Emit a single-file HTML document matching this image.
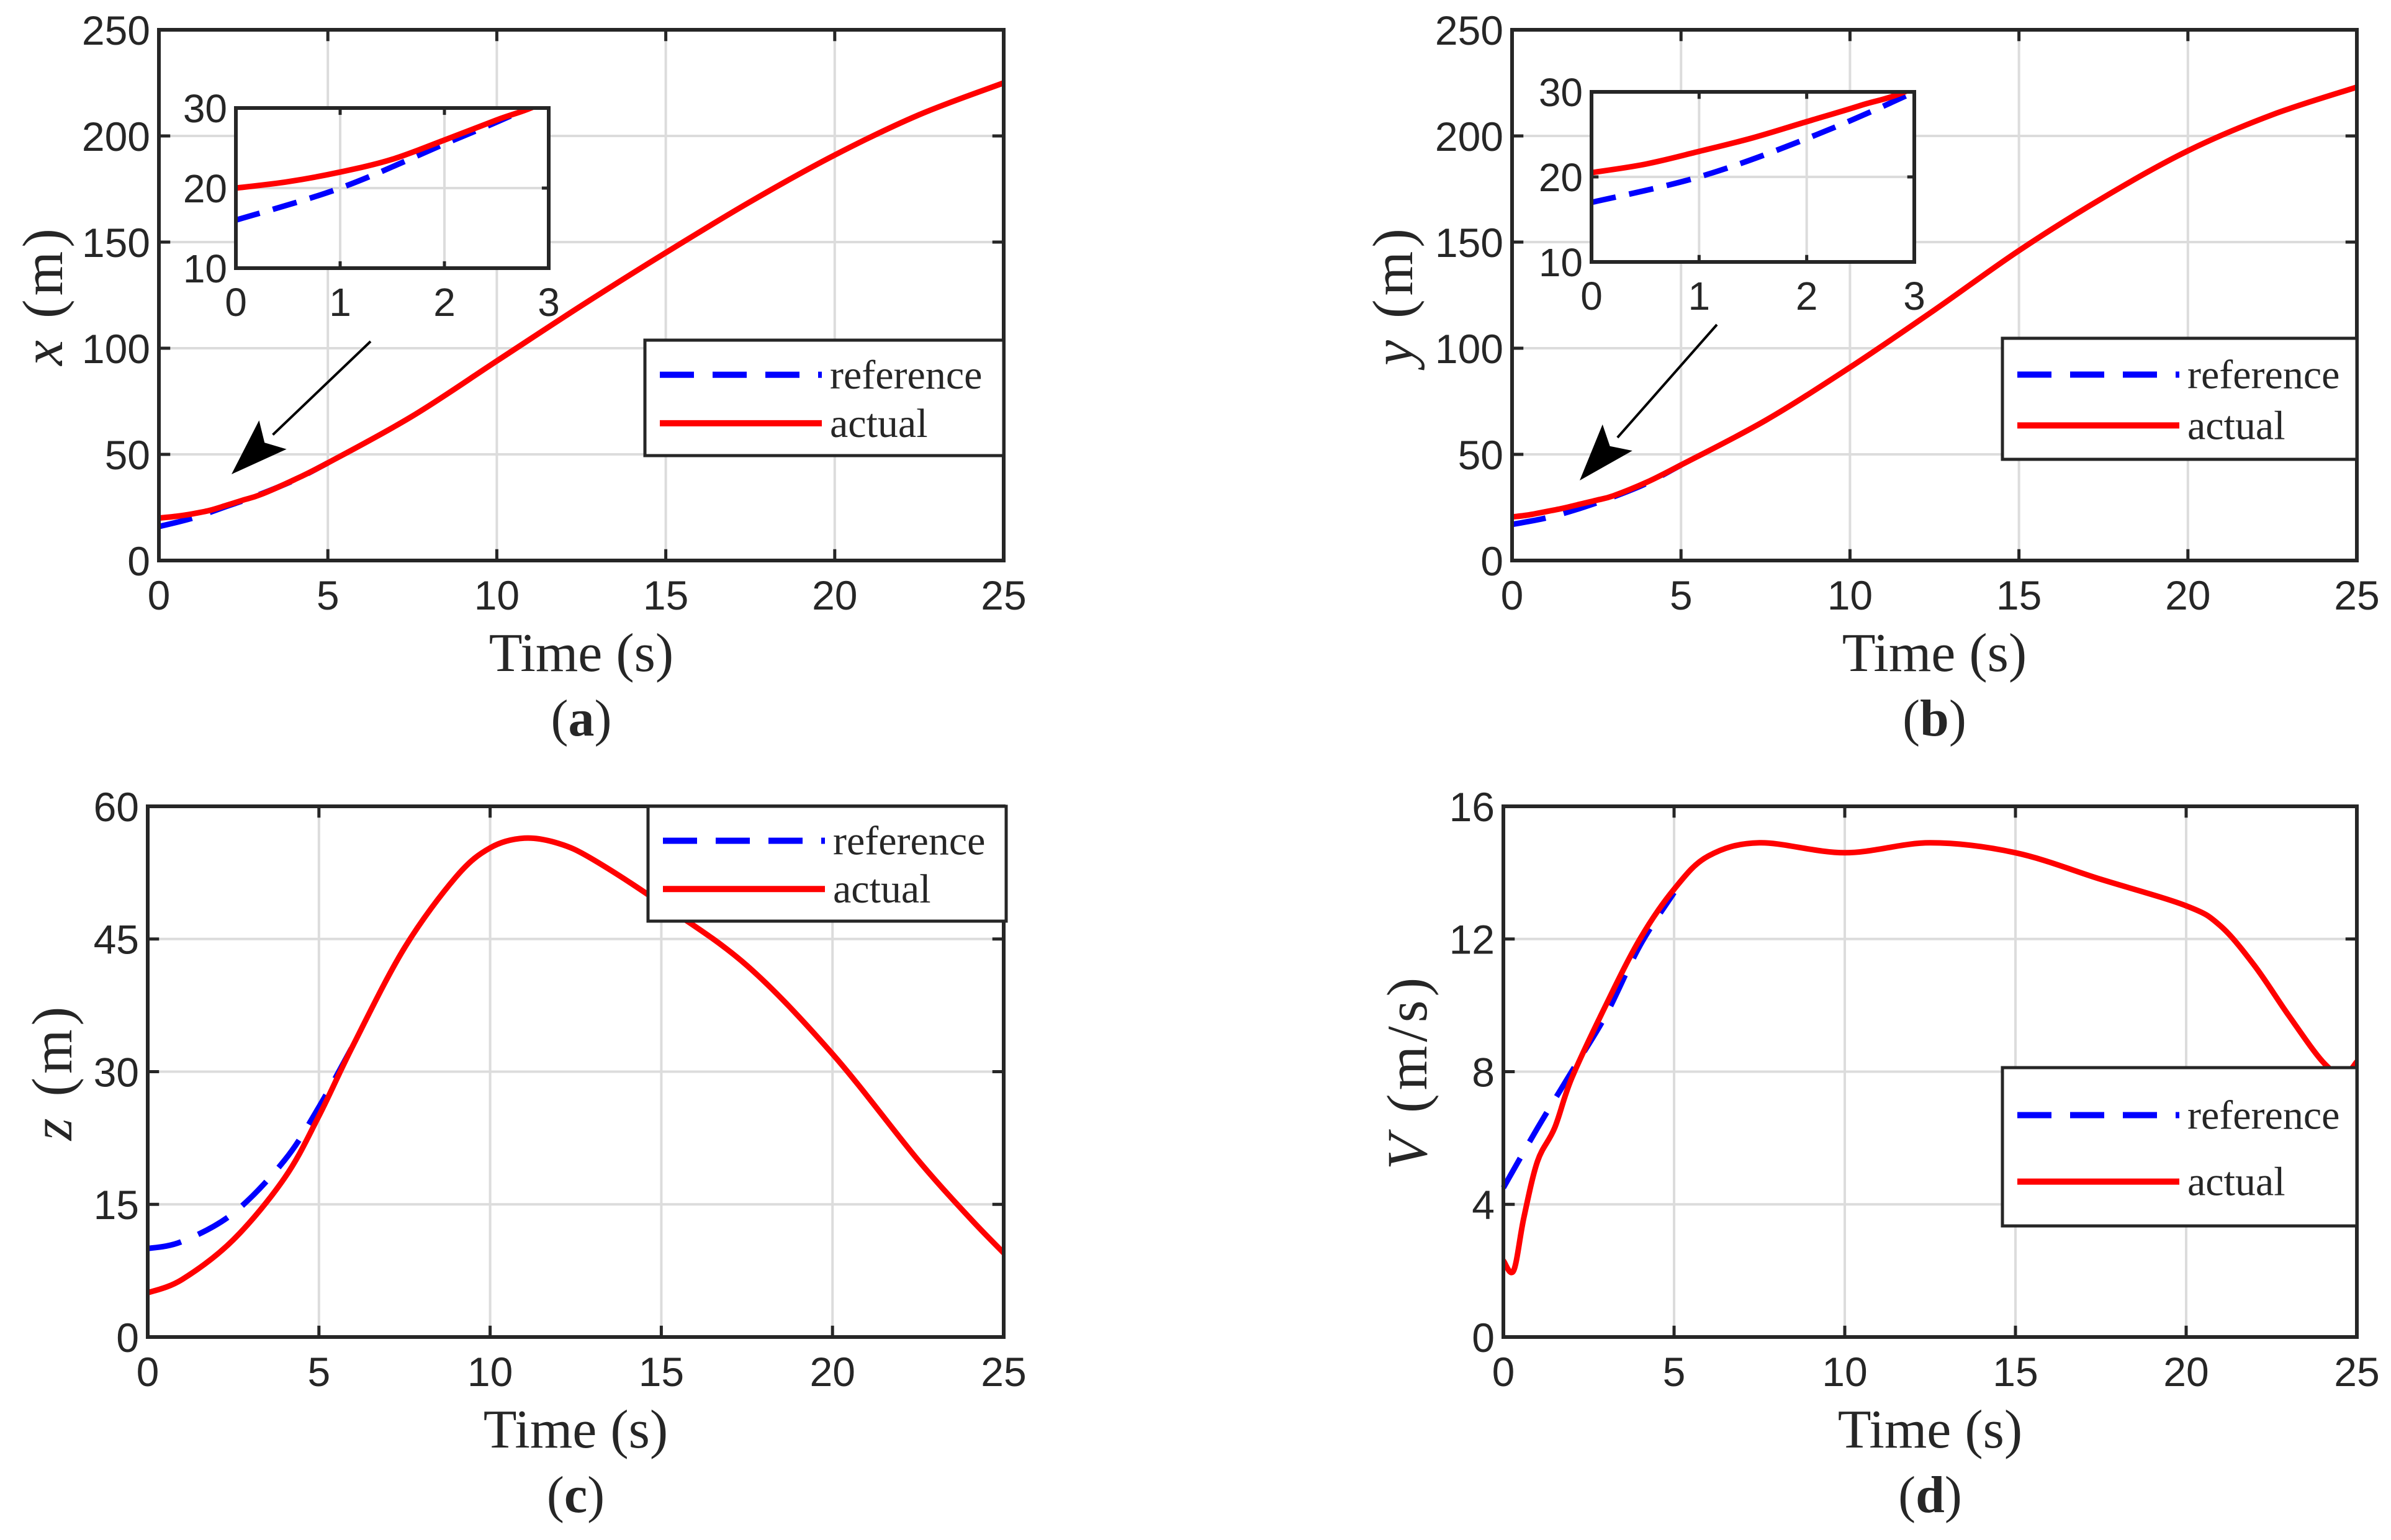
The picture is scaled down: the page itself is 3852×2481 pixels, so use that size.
<!DOCTYPE html>
<html><head><meta charset="utf-8"><style>
html,body{margin:0;padding:0;background:#fff}
svg{display:block}
.tk{font-family:"Liberation Sans",Arial,sans-serif;fill:#262626}
.ser{font-family:"Liberation Serif","Times New Roman",serif;fill:#262626}
</style></head><body>
<svg id="fig" width="3852" height="2481" viewBox="0 0 3852 2481" xmlns="http://www.w3.org/2000/svg"></svg>
<script>
// ---- data ----
const tA = [0,0.5,1,1.5,2,2.5,3,4,5,7.5,10,12.5,15,17.5,20,22.5,25];
const xActual = [20,20.8,22,23.6,26,28.5,31,38,46,68,94,120,145,169,191,210,225];
const tARef = [0,1,2,2.8,4,5];
const xRef = [16,20,25.5,30,37.8,46];

const tB = [0,0.5,1,1.5,2,2.5,3,4,5,7.5,10,12.5,15,17.5,20,22.5,25];
const yActual = [20.5,21.5,23,24.6,26.5,28.4,30.5,37,45,66,91,118,146,171,193,210,223];
const tBRef = [0,1,2,3,4,5];
const yRef = [17,20,24.5,30,36.5,45];

const tC = [0,1,2.5,4,5,6,7.5,9,10,11,12,13,15,17.5,20,22.5,24,25];
const zActual = [5,6.5,11,18,25,33,44,52,55.3,56.4,55.8,54,49,42,32,20,13.5,9.5];
const tCRef = [0,1,2.5,4,5,6];
const zRef = [10,10.8,14,20,26,33];

const tD = [0,0.3,0.6,1,1.5,2,3,4,5,6,7.5,10,12.5,15,17.5,20,21,22,23,24,24.6,25];
const vActual = [2.3,2.0,3.6,5.3,6.3,7.8,10,12,13.5,14.5,14.9,14.6,14.9,14.6,13.8,13.0,12.4,11.2,9.7,8.3,7.9,8.3];
const tDRef = [0,1,2,3,4,5];
const vRef = [4.5,6.3,8,9.7,11.8,13.4];

const xTicks = [0,5,10,15,20,25];
const xyTicks = [0,50,100,150,200,250];
const zTicks = [0,15,30,45,60];
const vTicks = [0,4,8,12,16];
const insetXTicks = [0,1,2,3];
const insetYTicks = [10,20,30];
const legendLabels = ["reference","actual"];

// ---- drawing ----
const NS="http://www.w3.org/2000/svg";
const svg=document.getElementById('fig');
function mk(tag,attrs,parent){const e=document.createElementNS(NS,tag);for(const k in attrs)e.setAttribute(k,attrs[k]);(parent||svg).appendChild(e);return e;}
function smoothPath(xs,ys,sx,sy){
  const P=xs.map((x,i)=>[sx(x),sy(ys[i])]);
  let d="M"+P[0][0].toFixed(1)+","+P[0][1].toFixed(1);
  for(let i=0;i<P.length-1;i++){
    const p0=P[Math.max(0,i-1)],p1=P[i],p2=P[i+1],p3=P[Math.min(P.length-1,i+2)];
    const c1=[p1[0]+(p2[0]-p0[0])/6,p1[1]+(p2[1]-p0[1])/6];
    const c2=[p2[0]-(p3[0]-p1[0])/6,p2[1]-(p3[1]-p1[1])/6];
    d+=" C"+c1[0].toFixed(1)+","+c1[1].toFixed(1)+" "+c2[0].toFixed(1)+","+c2[1].toFixed(1)+" "+p2[0].toFixed(1)+","+p2[1].toFixed(1);
  }
  return d;
}
function axes(g,L,R,T,B,xmin,xmax,ymin,ymax,xt,yt,fs,prefix){
  const sx=v=>L+(v-xmin)/(xmax-xmin)*(R-L);
  const sy=v=>B-(v-ymin)/(ymax-ymin)*(B-T);
  mk('rect',{x:L,y:T,width:R-L,height:B-T,fill:'#fff'},g);
  const tl=(B-T)*0.012+8;
  xt.forEach(v=>{
    const gl=mk('line',{x1:sx(v),x2:sx(v),y1:T,y2:B,stroke:'#dcdcdc','stroke-width':4},g);
    
    
    mk('line',{x1:sx(v),x2:sx(v),y1:B,y2:B-tl,stroke:'#262626','stroke-width':5},g);
    mk('line',{x1:sx(v),x2:sx(v),y1:T,y2:T+tl,stroke:'#262626','stroke-width':5},g);
    const t=mk('text',{x:sx(v),y:B+fs*1.2,'text-anchor':'middle',class:'tk','font-size':fs},g);
    t.textContent=v;
    
    
  });
  yt.forEach(v=>{
    const gl=mk('line',{x1:L,x2:R,y1:sy(v),y2:sy(v),stroke:'#dcdcdc','stroke-width':4},g);
    
    
    mk('line',{x1:L,x2:L+tl,y1:sy(v),y2:sy(v),stroke:'#262626','stroke-width':5},g);
    mk('line',{x1:R,x2:R-tl,y1:sy(v),y2:sy(v),stroke:'#262626','stroke-width':5},g);
    const t=mk('text',{x:L-14,y:sy(v)+fs*0.36,'text-anchor':'end',class:'tk','font-size':fs},g);
    t.textContent=v;
    
    
  });
  return {sx,sy};
}
function series(g,xs,ys,sc,color,dash,name){
  const p=mk('path',{d:smoothPath(xs,ys,sc.sx,sc.sy),fill:'none',stroke:color,'stroke-width':9,'stroke-linejoin':'round'},g);
  if(dash)p.setAttribute('stroke-dasharray',dash);
  
  
}
function frame(g,L,R,T,B){mk('rect',{x:L,y:T,width:R-L,height:B-T,fill:'none',stroke:'#262626','stroke-width':6},g);}
function legend(g,L,R,T,B,prefix){
  const lg=mk('g',{},g);
  
  
  mk('rect',{x:L,y:T,width:R-L,height:B-T,fill:'#fff',stroke:'#262626','stroke-width':5},lg);
  const h=B-T, y1=T+h*0.3, y2=T+h*0.72;
  mk('line',{x1:L+24,x2:L+285,y1:y1,y2:y1,stroke:'#0000ff','stroke-width':10,'stroke-dasharray':'55,30'},lg);
  mk('line',{x1:L+24,x2:L+285,y1:y2,y2:y2,stroke:'#ff0000','stroke-width':10},lg);
  [y1,y2].forEach((y,i)=>{
    const t=mk('text',{x:L+298,y:y+22,class:'ser','font-size':66},lg);
    t.textContent=legendLabels[i];
    
    
  });
}
function labels(g,L,R,B,ylab,ylabX,ylabY,caption,capY,prefix){
  const xl=mk('text',{x:(L+R)/2,y:B+178,'text-anchor':'middle',class:'ser','font-size':88},g);
  xl.textContent='Time (s)';
  
  
  const yl=mk('text',{x:ylabX,y:ylabY,'text-anchor':'middle',class:'ser','font-size':92,'letter-spacing':6,transform:`rotate(-90 ${ylabX} ${ylabY})`},g);
  yl.innerHTML=ylab;
  
  
  const c=mk('text',{x:(L+R)/2,y:capY,'text-anchor':'middle',class:'ser','font-size':84},g);
  c.innerHTML=caption;
  
  
}
function arrow(g,x1,y1,x2,y2,prefix){
  const ag=mk('g',{},g);
  
  
  const ang=Math.atan2(y2-y1,x2-x1),len=92,w=32;
  const bx=x2-len*Math.cos(ang),by=y2-len*Math.sin(ang);
  mk('line',{x1,y1,x2:bx,y2:by,stroke:'#000','stroke-width':4},ag);
  const px=-Math.sin(ang)*w,py=Math.cos(ang)*w;
  mk('polygon',{points:`${x2},${y2} ${bx+px},${by+py} ${bx+(x2-bx)*0.2},${by+(y2-by)*0.2} ${bx-px},${by-py}`,fill:'#000'},ag);
}
function panel(cfg){
  const g=mk('g',{});
  
  
  const sc=axes(g,cfg.L,cfg.R,cfg.T,cfg.B,0,25,cfg.ymin,cfg.ymax,xTicks,cfg.yt,66,cfg.prefix);
  series(g,cfg.tr,cfg.ref,sc,'#0000ff','55,30',cfg.prefix+'reference-line');
  series(g,cfg.ta,cfg.act,sc,'#ff0000',null,cfg.prefix+'actual-line');
  frame(g,cfg.L,cfg.R,cfg.T,cfg.B);
  legend(g,cfg.lg[0],cfg.lg[1],cfg.lg[2],cfg.lg[3],cfg.prefix);
  if(cfg.inset){
    const [iL,iR,iT,iB]=cfg.inset;
    const ig=mk('g',{},g);
    
    
    mk('clipPath',{id:cfg.prefix+'clip'},ig).appendChild(document.createElementNS(NS,'rect'));
    const cr=ig.querySelector('clipPath rect');cr.setAttribute('x',iL);cr.setAttribute('y',iT);cr.setAttribute('width',iR-iL);cr.setAttribute('height',iB-iT);
    const isc=axes(ig,iL,iR,iT,iB,0,3,10,30,insetXTicks,insetYTicks,64,cfg.prefix+'inset-');
    const cg=mk('g',{'clip-path':`url(#${cfg.prefix}clip)`},ig);
    series(cg,cfg.tr,cfg.ref,isc,'#0000ff','40,22',cfg.prefix+'inset-reference-line');
    series(cg,cfg.ta,cfg.act,isc,'#ff0000',null,cfg.prefix+'inset-actual-line');
    frame(ig,iL,iR,iT,iB);
    arrow(g,cfg.arrow[0],cfg.arrow[1],cfg.arrow[2],cfg.arrow[3],cfg.prefix);
  }
  labels(g,cfg.L,cfg.R,cfg.B,cfg.ylab,cfg.ylx,(cfg.T+cfg.B)/2,cfg.cap,cfg.capY,cfg.prefix);
}
panel({prefix:'a-',L:256,R:1617,T:48,B:903,ymin:0,ymax:250,yt:xyTicks,ta:tA,act:xActual,tr:tARef,ref:xRef,
  lg:[1039,1617,548,734],inset:[380,884,174,432],arrow:[597,550,373,764],
  ylab:'<tspan font-style="italic">x</tspan> (m)',ylx:100,cap:'(<tspan font-weight="bold">a</tspan>)',capY:1185});
panel({prefix:'b-',L:2436,R:3797,T:48,B:903,ymin:0,ymax:250,yt:xyTicks,ta:tB,act:yActual,tr:tBRef,ref:yRef,
  lg:[3226,3797,545,740],inset:[2564,3084,148,422],arrow:[2766,523,2545,774],
  ylab:'<tspan font-style="italic">y</tspan> (m)',ylx:2275,cap:'(<tspan font-weight="bold">b</tspan>)',capY:1185});
panel({prefix:'c-',L:238,R:1617,T:1299,B:2154,ymin:0,ymax:60,yt:zTicks,ta:tC,act:zActual,tr:tCRef,ref:zRef,
  lg:[1044,1621,1299,1484],
  ylab:'<tspan font-style="italic">z</tspan> (m)',ylx:115,cap:'(<tspan font-weight="bold">c</tspan>)',capY:2436});
panel({prefix:'d-',L:2422,R:3797,T:1299,B:2154,ymin:0,ymax:16,yt:vTicks,ta:tD,act:vActual,tr:tDRef,ref:vRef,
  lg:[3226,3797,1720,1975],
  ylab:'<tspan font-style="italic">V</tspan> (m/s)',ylx:2298,cap:'(<tspan font-weight="bold">d</tspan>)',capY:2436});
</script>
</body></html>
